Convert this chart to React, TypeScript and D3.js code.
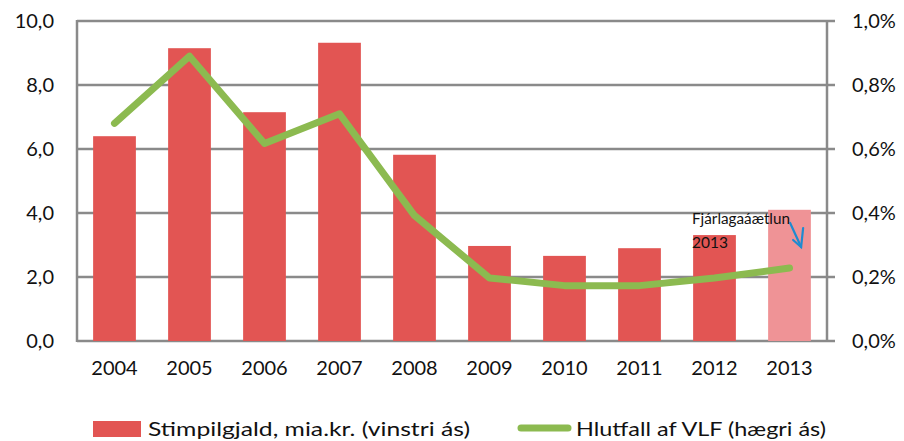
import React from "react";
import * as d3 from "d3";

const years = ["2004", "2005", "2006", "2007", "2008", "2009", "2010", "2011", "2012", "2013"];
const stampDuty = [6.4, 9.15, 7.15, 9.32, 5.82, 2.97, 2.66, 2.9, 3.31, 4.1];
const shareOfGdp = [0.0068, 0.0089, 0.00617, 0.0071, 0.00392, 0.00197, 0.00173, 0.00173, 0.00197, 0.00228];
const leftTicks = [0, 2, 4, 6, 8, 10];
const rightTicks = [0, 0.002, 0.004, 0.006, 0.008, 0.01];
const legendLabels = ["Stimpilgjald, mia.kr. (vinstri ás)", "Hlutfall af VLF (hægri ás)"];
const noteLines = ["Fjárlagaáætlun", "2013"];

const W = 904;
const H = 441;
const L = 77;
const R = 827;
const T = 21;
const B = 341;
const FONT = "Lato, 'Open Sans', sans-serif";
const GRID = "#8a8a8a";

export default function App() {
  const x = d3.scaleBand<string>().domain(years).range([L, R]).paddingInner(0.43).paddingOuter(0.215);
  const yL = d3.scaleLinear().domain([0, 10]).range([B, T]);
  const yR = d3.scaleLinear().domain([0, 0.01]).range([B, T]);
  const fmtL = (v: number) => v.toFixed(1).replace(".", ",");
  const fmtR = (v: number) => (v * 100).toFixed(1).replace(".", ",") + "%";
  const line = d3
    .line<number>()
    .x((_, i) => (x(years[i]) as number) + x.bandwidth() / 2)
    .y((d) => yR(d));

  const lastX = (x("2013") as number);
  return (
    <svg width={W} height={H} style={{ position: "absolute", left: 0, top: 0 }}>
      <rect width={W} height={H} fill="#fff" />
      {leftTicks.map((t) => (
        <line key={"g" + t} x1={L} x2={R + 8} y1={yL(t)} y2={yL(t)} stroke={GRID} strokeWidth={2.5} />
      ))}
      <line x1={L} x2={L} y1={T - 1} y2={B + 1} stroke={GRID} strokeWidth={2.5} />
      <line x1={R} x2={R} y1={T - 1} y2={B + 1} stroke={GRID} strokeWidth={2.5} />
      {stampDuty.map((v, i) => (
        <rect
          key={years[i]}
          x={x(years[i])}
          y={yL(v)}
          width={x.bandwidth()}
          height={B - yL(v)}
          fill={i === years.length - 1 ? "#ef9396" : "#e25553"}
        />
      ))}
      <path d={line(shareOfGdp) || ""} fill="none" stroke="#8cba50" strokeWidth={7} strokeLinecap="round" strokeLinejoin="round" />
      {leftTicks.map((t) => (
        <text key={"l" + t} x={54} y={yL(t)} dy="0.35em" textAnchor="end" fontFamily={FONT} fontSize={20} fill="#111">
          {fmtL(t)}
        </text>
      ))}
      {rightTicks.map((t) => (
        <text key={"r" + t} x={852} y={yR(t)} dy="0.35em" textAnchor="start" fontFamily={FONT} fontSize={20} fill="#111">
          {fmtR(t)}
        </text>
      ))}
      {years.map((yv) => (
        <text key={"x" + yv} x={(x(yv) as number) + x.bandwidth() / 2} y={375} textAnchor="middle" fontFamily={FONT} fontSize={20} fill="#111">
          {yv}
        </text>
      ))}
      <text x={692} y={224} fontFamily={FONT} fontSize={15.5} fill="#111" textLength={98} lengthAdjust="spacingAndGlyphs">{noteLines[0]}</text>
      <text x={692} y={248} fontFamily={FONT} fontSize={15.5} fill="#111">{noteLines[1]}</text>
      <g stroke="#1e8bd0" strokeWidth={2.2} fill="none" strokeLinecap="round">
        <line x1={lastX + 22} y1={223} x2={lastX + 33} y2={247} />
        <polyline points={`${lastX + 25},${240} ${lastX + 33},${247} ${lastX + 35},${228}`} />
      </g>
      <rect x={93} y={421} width={48} height={16} fill="#e25553" />
      <text x={148} y={436} fontFamily={FONT} fontSize={20} fill="#111" textLength={322} lengthAdjust="spacingAndGlyphs">
        {legendLabels[0]}
      </text>
      <line x1={521} x2={568} y1={428} y2={428} stroke="#8cba50" strokeWidth={7} strokeLinecap="round" />
      <text x={576} y={436} fontFamily={FONT} fontSize={20} fill="#111" textLength={250} lengthAdjust="spacingAndGlyphs">
        {legendLabels[1]}
      </text>
    </svg>
  );
}
